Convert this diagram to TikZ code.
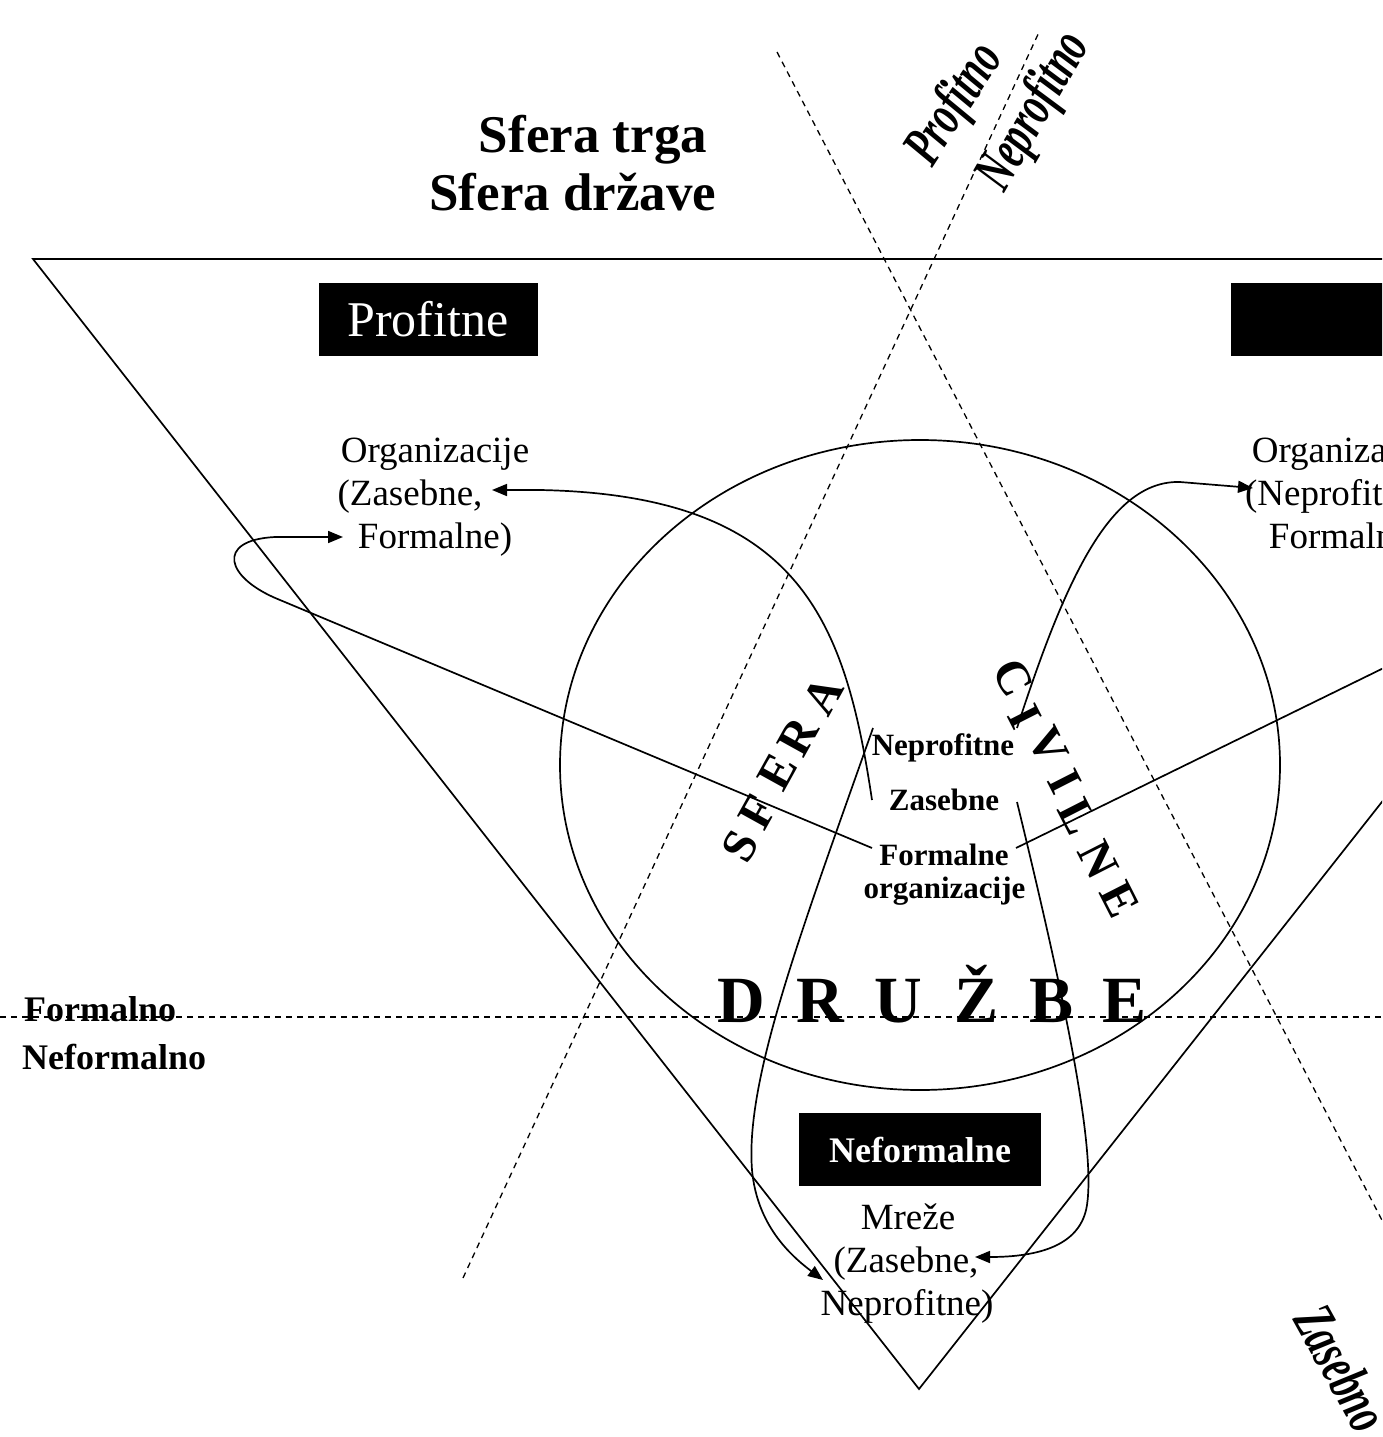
\documentclass[tikz,border=0pt]{standalone}
\usepackage{fontspec}
\setmainfont{Liberation Serif}
\usetikzlibrary{arrows.meta}
\newcommand\fsz[1]{\fontsize{#1}{#1}\selectfont}
\begin{document}
\begin{tikzpicture}[x=1pt,y=-1pt,
  solidline/.style={line width=1.7pt},
  dashline/.style={line width=1.3pt, dash pattern=on 6pt off 5pt},
  arr/.style={line width=1.7pt, -{Triangle[length=15pt,width=12pt]}},
  txt/.style={inner sep=0pt, anchor=base},
  blk/.style={fill=black, text=white, inner sep=0pt},
  letL/.style={inner sep=0pt, font=\fsz{48}\bfseries, rotate=61},
  letR/.style={inner sep=0pt, font=\fsz{48}\bfseries, rotate=-63},
  letD/.style={inner sep=0pt, anchor=base, font=\fsz{66}\bfseries},
  axis/.style={inner sep=0pt, font=\fsz{58}\bfseries\itshape}
]
\useasboundingbox (0,0) rectangle (1382,1437);
\clip (0,0) rectangle (1382,1437);

% dashed dividers
\draw[dashline] (463,1278) -- (1040,30);
\draw[dashline] (777,52) -- (1400,1255);
\draw[dashline] (0,1017) -- (1382,1017);

% big triangle
\draw[solidline] (33,259) -- (1810,259) -- (919,1389) -- cycle;

% circle
\draw[solidline] (920,765) ellipse [x radius=360pt, y radius=325pt];

% titles
\node[txt, font=\fsz{53}\bfseries] (t1) at (593,152) {Sfera trga};
\node[txt, font=\fsz{53}\bfseries] (t2) at (573,210) {Sfera države};

% axis labels
\node[axis, rotate=57, xscale=0.66] (pf) at (956,105) {Profitno};
\node[axis, rotate=60, xscale=0.66] (npf) at (1035,112) {Neprofitno};
\node[axis, rotate=-61, xscale=0.66] (zas) at (1342,1368) {Zasebno};

\node[txt, anchor=base west, font=\fsz{36}\bfseries] (fo) at (24,1021) {Formalno};
\node[txt, anchor=base west, font=\fsz{36}\bfseries] (nfo) at (22,1069) {Neformalno};

% black boxes
\node[blk, minimum width=219pt, minimum height=73pt, font=\fsz{50}] (bp) at (428,319.5) {Profitne};
\fill (1231,283) rectangle (1400,356);
\node[blk, minimum width=242pt, minimum height=73pt, font=\fsz{36}\bfseries] (bn) at (920,1149.5) {Neformalne};

% left organisations
\node[txt, font=\fsz{37}] (o1) at (435,462) {Organizacije};
\node[txt, font=\fsz{37}] (o2) at (410,505) {(Zasebne,};
\node[txt, font=\fsz{37}] (o3) at (435,548) {Formalne)};

% right organisations (cut at edge)
\node[txt, font=\fsz{37}] (r1) at (1346,462) {Organizacije};
\node[txt, font=\fsz{37}] (r2) at (1336,505) {(Neprofitne,};
\node[txt, font=\fsz{37}] (r3) at (1346,548) {Formalne)};

% networks
\node[txt, font=\fsz{37}] (m1) at (908,1229) {Mreže};
\node[txt, font=\fsz{37}] (m2) at (906,1272) {(Zasebne,};
\node[txt, font=\fsz{37}] (m3) at (907,1315) {Neprofitne)};

% centre labels
\node[txt, font=\fsz{31}\bfseries] (c1) at (943,755) {Neprofitne};
\node[txt, font=\fsz{31}\bfseries] (c2) at (944,810) {Zasebne};
\node[txt, font=\fsz{31}\bfseries] (c3) at (944,865) {Formalne};
\node[txt, font=\fsz{31}\bfseries] (c4) at (944.5,898) {organizacije};

% SFERA
\node[letL] (s1) at (740,846) {S};
\node[letL] (s2) at (758,812) {F};
\node[letL] (s3) at (778,772) {E};
\node[letL] (s4) at (798,737) {R};
\node[letL] (s5) at (823,696) {A};

% CIVILNE
\node[letR] (v1) at (1013,678) {C};
\node[letR] (v2) at (1025,717) {I};
\node[letR] (v3) at (1048,746) {V};
\node[letR] (v4) at (1065,782) {I};
\node[letR] (v5) at (1078,817) {L};
\node[letR] (v6) at (1098,860) {N};
\node[letR] (v7) at (1120,900) {E};

% DRUŽBE
\node[letD] (d1) at (741,1022) {D};
\node[letD] (d2) at (820,1022) {R};
\node[letD] (d3) at (898,1022) {U};
\node[letD] (d4) at (976,1022) {Ž};
\node[letD] (d5) at (1051,1022) {B};
\node[letD] (d6) at (1124,1022) {E};

% connector end points
\coordinate (a1s) at (872,800);
\coordinate (a1e) at (492,490);
\coordinate (a2s) at (872,848);
\coordinate (a2e) at (343,537);
\coordinate (a3s) at (1017,802);
\coordinate (a3e) at (975,1257);
\coordinate (a4s) at (873,728);
\coordinate (a4e) at (823,1280);
\coordinate (a5s) at (1016,848);
\coordinate (a5e) at (1400,660);
\coordinate (a6s) at (1017,728);
\coordinate (a6e) at (1253,488);

% curves
\draw[arr] (a1s) .. controls (845,620) and (800,495) .. (540,490) -- (a1e);
\draw[arr] (a2s) -- (280,600) .. controls (225,578) and (215,540) .. (275,537) -- (a2e);
\draw[arr] (a3s) .. controls (1070,1020) and (1095,1150) .. (1087,1205) .. controls (1081,1245) and (1040,1257) .. (a3e);
\draw[arr] (a4s) .. controls (800,935) and (745,1080) .. (752,1170) .. controls (757,1225) and (790,1255) .. (a4e);
\draw[solidline] (a5s) -- (a5e);
\draw[arr] (a6s) .. controls (1065,580) and (1110,480) .. (1180,482) -- (a6e);
\end{tikzpicture}
\end{document}
